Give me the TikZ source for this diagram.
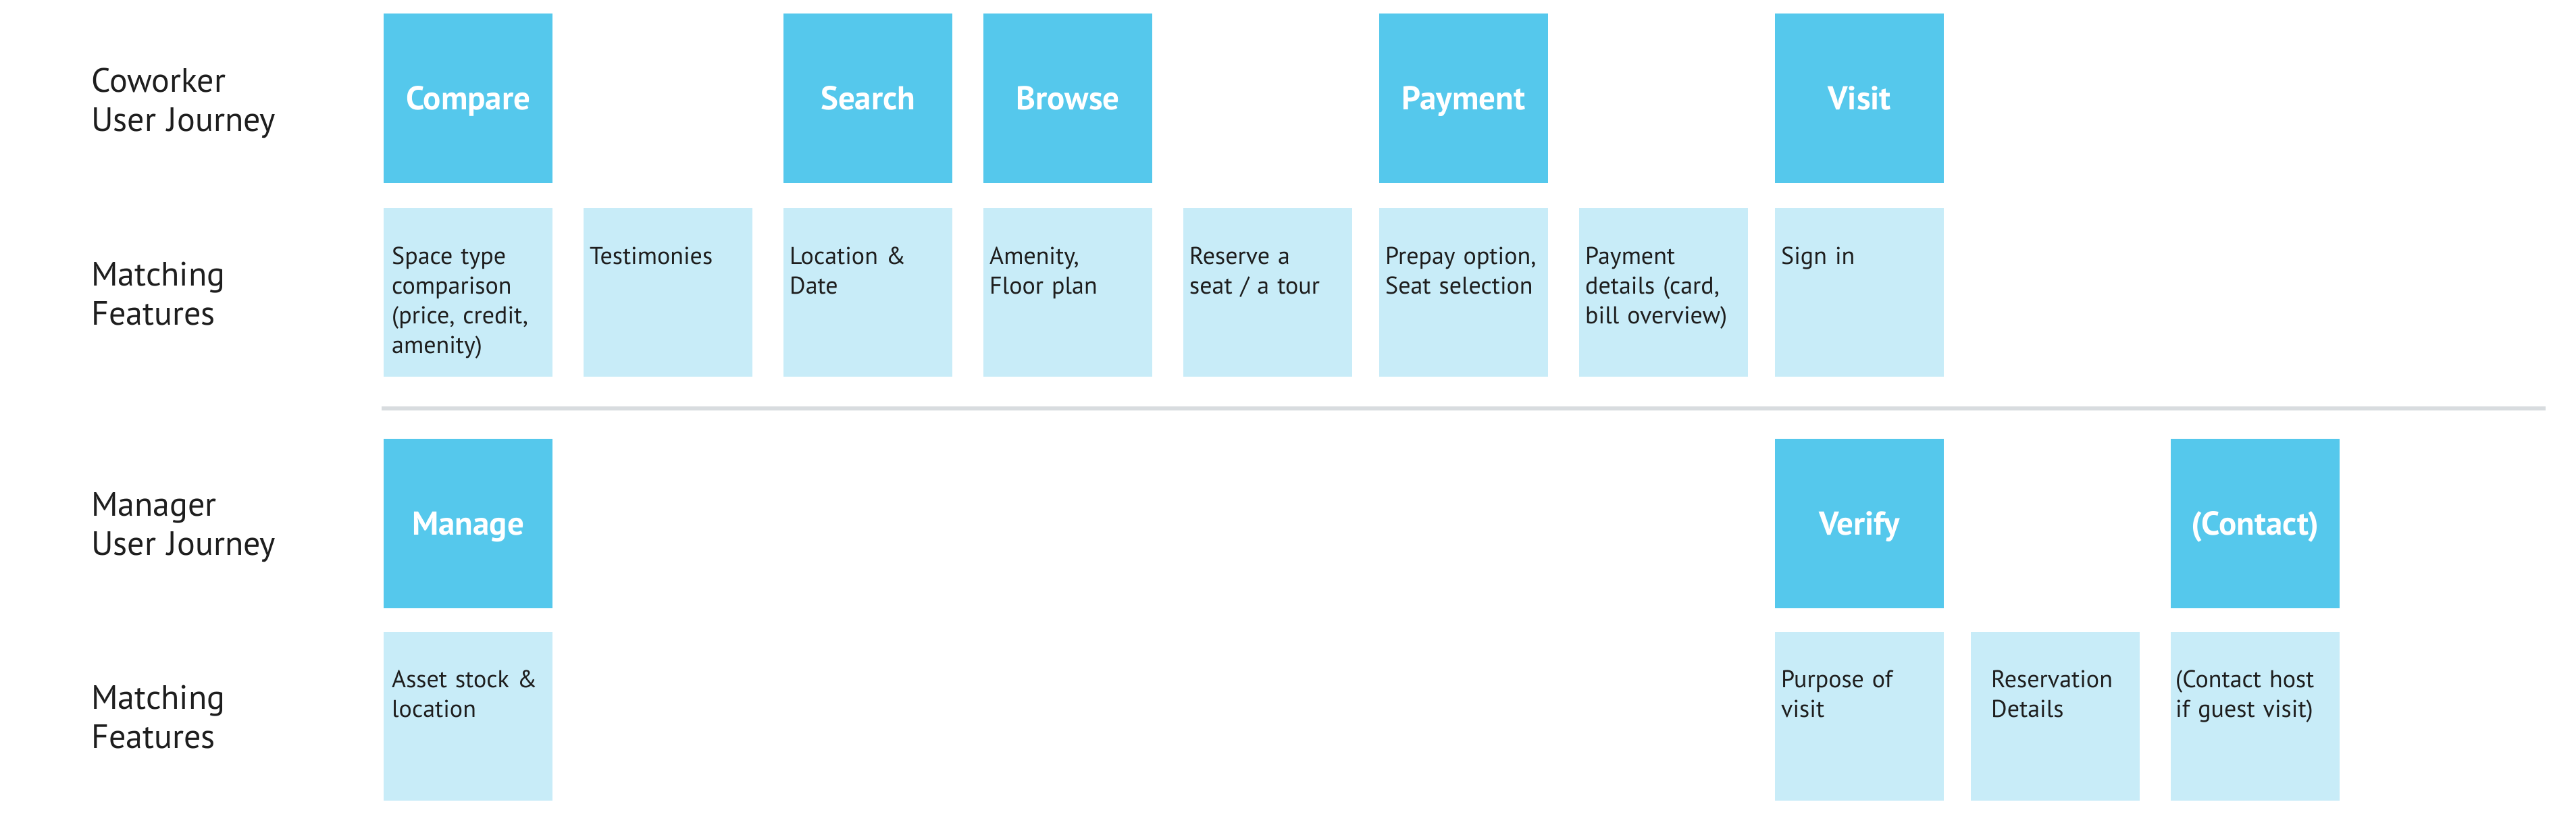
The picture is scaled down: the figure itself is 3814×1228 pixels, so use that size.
\documentclass[tikz,border=0pt]{standalone}
\usepackage{fontspec}
\setmainfont{PT Sans}
\definecolor{dark}{HTML}{55C8EC}
\definecolor{light}{HTML}{C8ECF8}
\definecolor{sep}{HTML}{D8DCDF}
\definecolor{ink}{HTML}{1E1E1E}
\begin{document}
\begin{tikzpicture}[x=1pt,y=-1pt,
  stage/.style={fill=dark,draw=none,minimum width=250pt,minimum height=251pt,anchor=north west,inner sep=0pt,
    text=white,font=\fontsize{49}{58}\selectfont\bfseries,text height=34pt,text depth=0pt},
  feat/.style={fill=light,draw=none,minimum width=250pt,minimum height=250pt,anchor=north west,inner sep=0pt},
  ftext/.style={anchor=base west,inner sep=0pt,text width=245pt,align=left,text=ink,
    font=\fontsize{36}{44}\selectfont},
  rowlabel/.style={anchor=base west,inner sep=0pt,text width=500pt,align=left,text=ink,
    font=\fontsize{50}{58}\selectfont}]
\useasboundingbox[fill=white] (0,0) rectangle (3814,1228);

% row labels
\node[rowlabel] (l1) at (135,137) {Coworker\\User Journey};
\node[rowlabel] (l2) at (135,423) {Matching\\Features};
\node[rowlabel] (l3) at (135,764) {Manager\\User Journey};
\node[rowlabel] (l4) at (135,1050) {Matching\\Features};

% coworker journey stages
\node[stage] (compare) at (568,20) {Compare};
\node[stage] (search) at (1160,20) {Search};
\node[stage] (browse) at (1456,20) {Browse};
\node[stage] (payment) at (2042,20) {Payment};
\node[stage] (visit) at (2628,20) {Visit};

% coworker features
\node[feat] (f1) at (568,308) {};
\node[feat] (f2) at (864,308) {};
\node[feat] (f3) at (1160,308) {};
\node[feat] (f4) at (1456,308) {};
\node[feat] (f5) at (1752,308) {};
\node[feat] (f6) at (2042,308) {};
\node[feat] (f7) at (2338,308) {};
\node[feat] (f8) at (2628,308) {};
\node[ftext] (t1) at ([xshift=12pt,yshift=-83pt]f1.north west) {Space type\\comparison\\(price, credit,\\amenity)};
\node[ftext] (t2) at ([xshift=9pt,yshift=-83pt]f2.north west) {Testimonies};
\node[ftext] (t3) at ([xshift=9pt,yshift=-83pt]f3.north west) {Location \&\\Date};
\node[ftext] (t4) at ([xshift=9pt,yshift=-83pt]f4.north west) {Amenity,\\Floor plan};
\node[ftext] (t5) at ([xshift=9pt,yshift=-83pt]f5.north west) {Reserve a\\seat / a tour};
\node[ftext] (t6) at ([xshift=9pt,yshift=-83pt]f6.north west) {Prepay option,\\Seat selection};
\node[ftext] (t7) at ([xshift=9pt,yshift=-83pt]f7.north west) {Payment\\details (card,\\bill overview)};
\node[ftext] (t8) at ([xshift=9pt,yshift=-83pt]f8.north west) {Sign in};

% separator
\coordinate (s1) at (565,605);
\coordinate (s2) at (3769,605);
\draw[sep,line width=6pt] (s1) -- (s2);

% manager journey stages
\node[stage] (manage) at (568,650) {Manage};
\node[stage] (verify) at (2628,650) {Verify};
\node[stage] (contact) at (3214,650) {(Contact)};

% manager features
\node[feat] (g1) at (568,936) {};
\node[feat] (g2) at (2628,936) {};
\node[feat] (g3) at (2918,936) {};
\node[feat] (g4) at (3214,936) {};
\node[ftext] (u1) at ([xshift=12pt,yshift=-82pt]g1.north west) {Asset stock \&\\location};
\node[ftext] (u2) at ([xshift=9pt,yshift=-82pt]g2.north west) {Purpose of\\visit};
\node[ftext] (u3) at ([xshift=30pt,yshift=-82pt]g3.north west) {Reservation\\Details};
\node[ftext] (u4) at ([xshift=7pt,yshift=-82pt]g4.north west) {(Contact host\\if guest visit)};
\end{tikzpicture}
\end{document}
